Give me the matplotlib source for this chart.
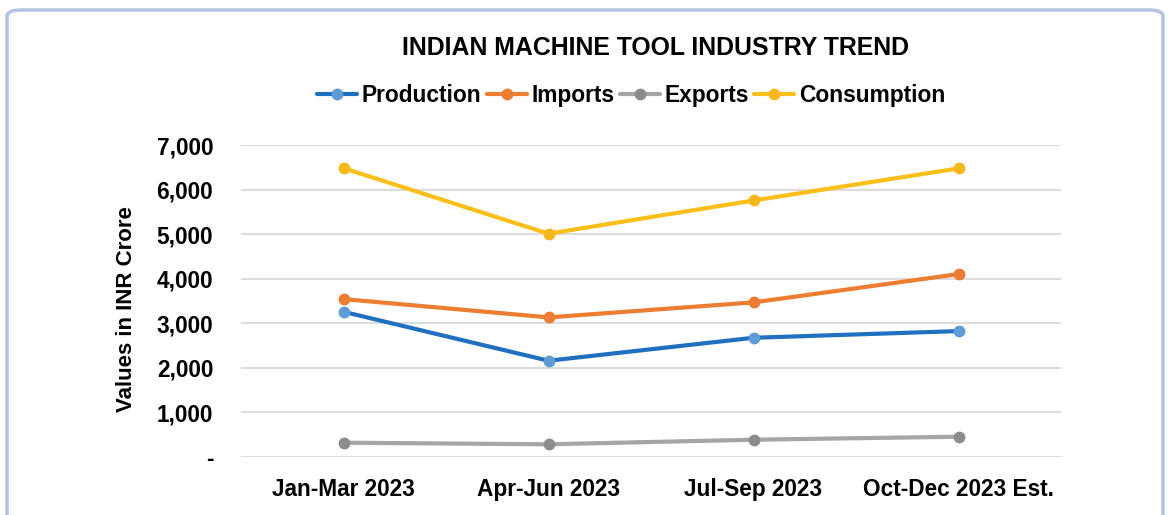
import matplotlib
matplotlib.use("Agg")
import matplotlib.pyplot as plt
from matplotlib.patches import FancyBboxPatch
from matplotlib.ticker import FuncFormatter

categories = ["Jan-Mar 2023", "Apr-Jun 2023", "Jul-Sep 2023", "Oct-Dec 2023 Est."]
production = [3258, 2160, 2675, 2825]
imports = [3543, 3132, 3469, 4103]
exports = [321, 285, 388, 455]
consumption = [6480, 5010, 5755, 6475]

plt.rcParams['font.family'] = ['Liberation Sans', 'DejaVu Sans']
plt.rcParams['font.weight'] = 'bold'

W, H = 1168, 515
fig = plt.figure(figsize=(W / 100, H / 100), dpi=100)
fig.patch.set_facecolor('white')

# border
border = FancyBboxPatch((7 / W, -20 / H), (1163 - 7) / W, (505 - (-20) + 0) / H,
                        boxstyle="round,pad=0,rounding_size=0.012",
                        transform=fig.transFigure, facecolor='none',
                        edgecolor='#b4c2e4', linewidth=2.5, clip_on=False)
fig.patches.append(border)

ax = fig.add_axes([241 / W, (H - 457) / H, (1061 - 241) / W, (457 - 145) / H])
x = list(range(len(categories)))

series = [
    ("Production", production, '#1f70c1', '#5f9bd6'),
    ("Imports", imports, '#ed7d31', '#ed7d31'),
    ("Exports", exports, '#a5a5a5', '#8c8c8c'),
    ("Consumption", consumption, '#fbbf1a', '#f5b719'),
]
handles = []
for name, vals, lc, mc in series:
    h, = ax.plot(x, vals, color=lc, lw=3, marker='o', markersize=7.5,
                 markerfacecolor=mc, markeredgecolor=mc, label=name,
                 solid_capstyle='round', zorder=3)
    handles.append(h)

ax.set_xlim(-0.5, 3.5)
ax.set_ylim(0, 7000)
ax.set_yticks(range(0, 7001, 1000))
ax.yaxis.set_major_formatter(FuncFormatter(lambda v, p: '-' if v == 0 else f"{int(v):,}"))
ax.set_xticks(x)
ax.set_xticklabels(categories)
ax.grid(axis='y', color='#dcdcdc', lw=1.5, zorder=0)
for s in ax.spines.values():
    s.set_visible(False)
ax.tick_params(axis='both', length=0, labelsize=16.3)
ax.tick_params(axis='y', pad=20)
ax.tick_params(axis='x', pad=15)
for lab in ax.get_xticklabels() + ax.get_yticklabels():
    lab.set_fontweight('bold')
ax.set_ylabel("Values in INR Crore", fontsize=16, fontweight='bold')
ax.yaxis.set_label_coords(-(241 - 127) / (1061 - 241), 0.474)
ax.yaxis.label.set_va('center')

fig.text(655 / W, 1 - 48 / H, "INDIAN MACHINE TOOL INDUSTRY TREND", ha='center', va='center',
         fontsize=17.9, fontweight='bold')

leg = fig.legend(handles=handles, loc='center', bbox_to_anchor=(631 / W, 1 - 95.5 / H), ncol=4,
                 frameon=False, fontsize=16.4, handlelength=1.75, handletextpad=0.2,
                 columnspacing=0.25, borderaxespad=0)
for t in leg.get_texts():
    t.set_fontweight('bold')

fig.savefig("out.png", dpi=100, facecolor='white')
